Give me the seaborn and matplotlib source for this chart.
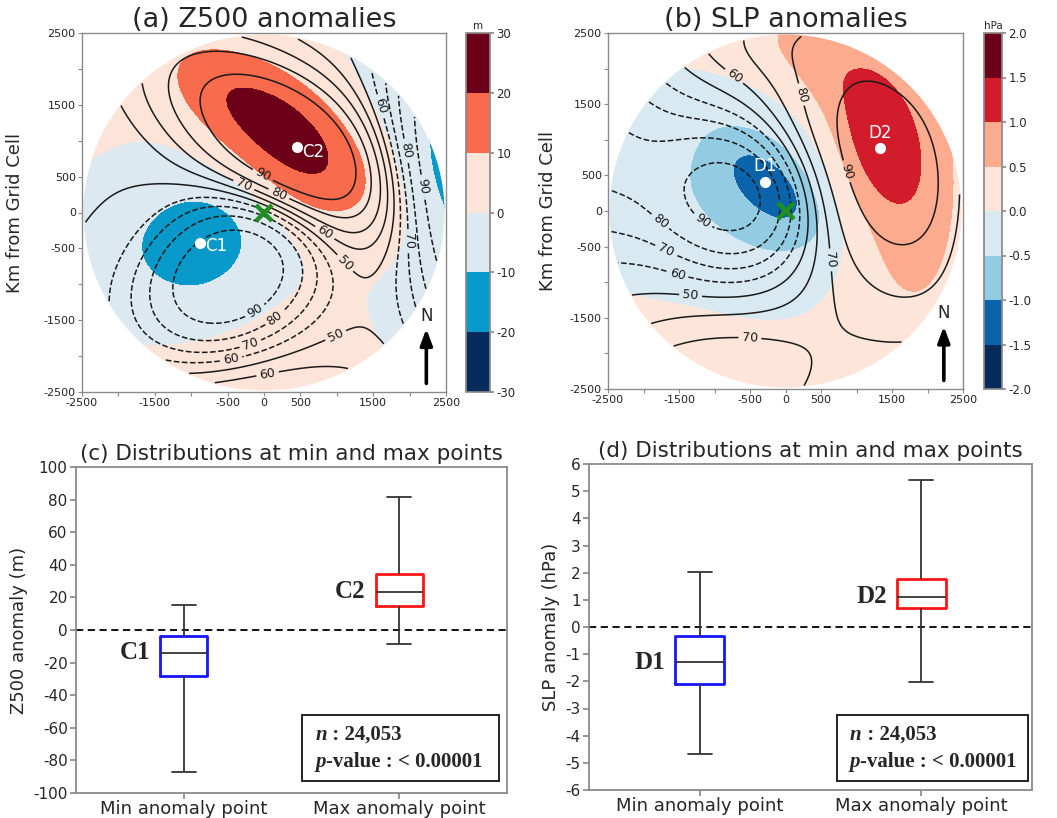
import numpy as np
import matplotlib
matplotlib.use("Agg")
import matplotlib.pyplot as plt
import seaborn as sns
import pandas as pd
from matplotlib.colors import ListedColormap, BoundaryNorm
from matplotlib.patches import Circle, Rectangle

# ------------------------------------------------------------------ data
# (a) Z500 anomaly field (m): anomaly centres read from the map (km)
Z_BASE = 2.0
Z_X0 = [400, -700, -900, -1300, 2600, 2900]
Z_Y0 = [980, 1700, -480, -300, 400, 650]
Z_AMP = [25, 6, -12, -8, -6, -14]
Z_SA = [1000, 700, 560, 1300, 2500, 900]
Z_SB = [520, 400, 500, 850, 1100, 500]
Z_ROT = [-41, -35, 20, 20, 100, 100]
# (a) sign-agreement percentage (contour lines)
ZP_BASE = 0.02
ZP_X0 = [450, -450, 2700, -200, -900]
ZP_Y0 = [850, -850, 500, -2900, 1700]
ZP_AMP = [2.0, -1.8, -2.0, 0.6, 0.5]
ZP_SA = [1000, 900, 1800, 1600, 900]
ZP_SB = [600, 650, 600, 600, 600]
ZP_ROT = [-40, 35, 97, 0, -35]

# (b) SLP anomaly field (hPa)
S_BASE = 0.15
S_X0 = [-200, -350, -2300, 100, 1350, 1450, 400]
S_Y0 = [330, 300, 400, -800, 850, 700, 2100]
S_AMP = [-0.68, -0.8, -0.3, -0.1, 0.6, 0.75, 0.4]
S_SA = [620, 1000, 900, 700, 600, 1600, 1100]
S_SB = [300, 880, 1200, 500, 380, 650, 450]
S_ROT = [-43, -40, 10, 0, -65, -80, -30]
# (b) sign-agreement percentage
SP_BASE = 0.1
SP_X0 = [-700, -2700, 1400, 3300, -1200, -300]
SP_Y0 = [200, 900, 650, -200, -2550, 2400]
SP_AMP = [-1.55, -0.8, 1.4, -1.0, 0.6, 0.2]
SP_SA = [810, 800, 1450, 1800, 1300, 900]
SP_SB = [720, 1100, 950, 500, 700, 400]
SP_ROT = [-20, 0, -70, 90, 15, 0]

Z_LEVELS = [-30, -20, -10, 0, 10, 20, 30]
Z_COLORS = ["#062b5c", "#0699c9", "#dce9f1", "#fce4d8", "#f86b4d", "#6c0019"]
S_LEVELS = [-2.0, -1.5, -1.0, -0.5, 0.0, 0.5, 1.0, 1.5, 2.0]
S_COLORS = ["#062a5c", "#0b63ac", "#92cbe2", "#d9e9f2", "#fde5d9", "#fcab8e", "#d21c2c", "#6b0018"]
P_LEVELS = [-40, -30, -20, -10, 0, 10, 20, 30, 40]   # percent - 50

MAP_TICKS = [-2500, -2000, -1500, -1000, -500, 0, 500, 1000, 1500, 2000, 2500]
MAP_TICKLABELS = ["-2500", "", "-1500", "", "-500", "0", "500", "", "1500", "", "2500"]

Z_POINTS = {"C1": (-880, -420), "C2": (450, 910)}
S_POINTS = {"D1": (-290, 410), "D2": (1330, 880)}

# (c)/(d) box statistics: lower whisker, Q1, median, Q3, upper whisker
BOX_CATS = ["Min anomaly point", "Max anomaly point"]
C1_STATS = [-87.0, -28.4, -13.9, -3.9, 15.5]
C2_STATS = [-8.6, 14.5, 23.5, 34.4, 81.8]
D1_STATS = [-4.68, -2.10, -1.30, -0.33, 2.03]
D2_STATS = [-2.02, 0.69, 1.12, 1.77, 5.40]
N_TEXT = "24,053"
P_TEXT = "< 0.00001"

# ------------------------------------------------------------------ helpers
R = 2480
g = np.linspace(-2600, 2600, 281)
X, Y = np.meshgrid(g, g)


def blob_field(base, x0s, y0s, amps, sas, sbs, rots):
    F = np.full_like(X, base, dtype=float)
    for x0, y0, a, sa, sb, r in zip(x0s, y0s, amps, sas, sbs, rots):
        t = np.deg2rad(r)
        dx, dy = X - x0, Y - y0
        u = dx * np.cos(t) + dy * np.sin(t)
        v = -dx * np.sin(t) + dy * np.cos(t)
        F += a * np.exp(-0.5 * ((u / sa) ** 2 + (v / sb) ** 2))
    return F


sns.set_theme(style="ticks")
plt.rcParams["font.family"] = ["DejaVu Sans"]
plt.rcParams["axes.unicode_minus"] = True

W, H = 1057, 818
fig = plt.figure(figsize=(W / 100, H / 100), dpi=100)


def px_axes(l, t, r, b):
    return fig.add_axes([l / W, 1 - b / H, (r - l) / W, (b - t) / H])


SPINE = "#8a8a8a"


def draw_map(ax, cax, anom, pct, levels, colors, title, unit, points, label_pos, cbfmt, ylpad):
    cmap = ListedColormap(colors)
    norm = BoundaryNorm(levels, cmap.N)
    span = levels[-1] - levels[0]
    anom = np.clip(anom, levels[0] + 1e-3 * span, levels[-1] - 1e-3 * span)
    cf = ax.contourf(X, Y, anom, levels=levels, cmap=cmap, norm=norm)
    circ = Circle((0, 0), R, transform=ax.transData)
    cf.set_clip_path(circ)
    q = 50 * np.tanh(pct)
    q = np.where(np.hypot(X, Y) <= R - 10, q, np.nan)
    cl = ax.contour(X, Y, q, levels=P_LEVELS, colors="#1a1a1a", linewidths=1.1)
    ax.clabel(cl, fmt=lambda v: f"{50 + abs(v):.0f}", fontsize=9, inline=True, inline_spacing=3)
    ax.set_xlim(-2500, 2500)
    ax.set_ylim(-2500, 2500)
    ax.set_xticks(MAP_TICKS)
    ax.set_xticklabels(MAP_TICKLABELS, fontsize=8)
    ax.set_yticks(MAP_TICKS)
    ax.set_yticklabels(MAP_TICKLABELS, fontsize=8)
    ax.tick_params(length=3, width=0.8, color=SPINE, pad=1.5, colors="#222222")
    for s in ax.spines.values():
        s.set_color(SPINE)
        s.set_linewidth(1.0)
    ax.set_ylabel("Km from Grid Cell", fontsize=13, labelpad=ylpad)
    ax.set_title(title, fontsize=19.5, pad=3)
    # grid cell marker
    ax.plot([0], [0], marker="x", color="#1f8f1f", markersize=12, mew=3.2, ls="none", zorder=6)
    for name, (px, py) in points.items():
        ax.plot([px], [py], "o", color="white", markersize=7, zorder=6)
        dx, dy, ha, va = label_pos[name]
        ax.text(px + dx, py + dy, name, color="white", fontsize=12, ha=ha, va=va, zorder=6)
    # north arrow
    ax.annotate("", xy=(2230, -1620), xytext=(2230, -2380),
                arrowprops=dict(arrowstyle="-|>,head_length=0.8,head_width=0.3",
                                color="black", lw=2.6, shrinkA=0, shrinkB=0), zorder=6)
    ax.text(2230, -1560, "N", fontsize=12, ha="center", va="bottom", zorder=6)
    cb = fig.colorbar(cf, cax=cax, ticks=levels, format=cbfmt)
    cb.outline.set_edgecolor(SPINE)
    cb.ax.tick_params(labelsize=8.5, length=3, color=SPINE, pad=1.5)
    cb.ax.set_title(unit, fontsize=7.5, pad=3)


# (a)
axa = px_axes(82, 33, 446, 392)
caxa = px_axes(466, 33, 490, 392)
za = blob_field(Z_BASE, Z_X0, Z_Y0, Z_AMP, Z_SA, Z_SB, Z_ROT)
zp = blob_field(ZP_BASE, ZP_X0, ZP_Y0, ZP_AMP, ZP_SA, ZP_SB, ZP_ROT)
draw_map(axa, caxa, za, zp, Z_LEVELS, Z_COLORS, "(a) Z500 anomalies", "m", Z_POINTS,
         {"C1": (70, -50, "left", "center"), "C2": (70, -70, "left", "center")}, "%d", 14)

# (b)
axb = px_axes(608, 33, 963, 389)
caxb = px_axes(984, 33, 1002, 389)
sa_ = blob_field(S_BASE, S_X0, S_Y0, S_AMP, S_SA, S_SB, S_ROT)
sp = blob_field(SP_BASE, SP_X0, SP_Y0, SP_AMP, SP_SA, SP_SB, SP_ROT)
draw_map(axb, caxb, sa_, sp, S_LEVELS, S_COLORS, "(b) SLP anomalies", "hPa", S_POINTS,
         {"D1": (0, 90, "center", "bottom"), "D2": (0, 90, "center", "bottom")}, "%.1f", 9)


# ------------------------------------------------------------------ box plots
def draw_box(ax, s_min, s_max, names, ylim, yticks, ylabel, title, box_pos, text_pos):
    df = pd.DataFrame({"cat": [BOX_CATS[0]] * 5 + [BOX_CATS[1]] * 5,
                       "val": list(s_min) + list(s_max)})
    ax.axhline(0, color="black", lw=1.3, ls=(0, (4, 2.5)), zorder=1)
    sns.boxplot(data=df, x="cat", y="val", hue="cat", palette=["#1515ff", "#ff1515"],
                fill=False, width=0.22, whis=(0, 100), showfliers=False, legend=False,
                linewidth=1.3, ax=ax,
                boxprops=dict(linewidth=2.0),
                whiskerprops=dict(color="#333333", linewidth=1.3),
                capprops=dict(color="#333333", linewidth=1.3),
                medianprops=dict(color="#333333", linewidth=1.3))
    ax.set_ylim(*ylim)
    ax.set_yticks(yticks)
    ax.set_yticklabels([str(t) for t in yticks], fontsize=11)
    ax.set_xlim(-0.5, 1.5)
    ax.set_xlabel("")
    ax.set_ylabel(ylabel, fontsize=13, labelpad=4)
    ax.tick_params(axis="x", labelsize=13, length=4, color=SPINE, pad=1)
    ax.tick_params(axis="y", length=4, color=SPINE, pad=2)
    for s in ax.spines.values():
        s.set_visible(True)
        s.set_color(SPINE)
        s.set_linewidth(1.3)
    ax.set_title(title, fontsize=15.5, pad=5)
    for i, (nm, st) in enumerate(zip(names, [s_min, s_max])):
        ax.text(i - 0.155, st[2], nm, fontsize=18, fontweight="bold", family="Liberation Serif",
                ha="right", va="center")
    x0, y0, x1, y1 = box_pos
    ax.add_patch(Rectangle((x0, y0), x1 - x0, y1 - y0, transform=ax.transAxes,
                           fill=False, ec="#111111", lw=1.3, zorder=5))
    tx, ty1, ty2 = text_pos
    ser = dict(family="Liberation Serif", fontweight="bold", fontsize=15, va="center")
    t1 = ax.text(tx, ty1, "n", style="italic", transform=ax.transAxes, **ser)
    ax.annotate(" : " + N_TEXT, xy=(1, 0.5), xycoords=t1, ha="left", **ser)
    t2 = ax.text(tx, ty2, "p", style="italic", transform=ax.transAxes, **ser)
    ax.annotate("-value : " + P_TEXT, xy=(1, 0.5), xycoords=t2, ha="left", **ser)


axc = px_axes(76, 467, 507, 793)
draw_box(axc, C1_STATS, C2_STATS, ["C1", "C2"], (-100, 100), list(range(-100, 101, 20)),
         "Z500 anomaly (m)", "(c) Distributions at min and max points",
         (0.524, 0.037, 0.981, 0.239), (0.555, 0.178, 0.095))

axd = px_axes(589, 464, 1032, 790)
draw_box(axd, D1_STATS, D2_STATS, ["D1", "D2"], (-6, 6), list(range(-6, 7)),
         "SLP anomaly (hPa)", "(d) Distributions at min and max points",
         (0.56, 0.028, 0.991, 0.23), (0.589, 0.169, 0.086))

fig.savefig("out.png", dpi=100)
